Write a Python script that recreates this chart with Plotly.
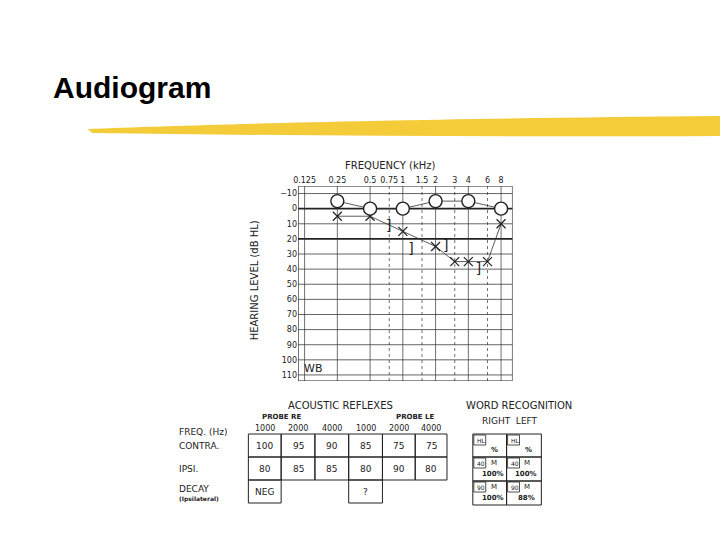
import plotly.graph_objects as go
import math

W, H = 728, 546
freq_ticks = [0.125, 0.25, 0.5, 0.75, 1, 1.5, 2, 3, 4, 6, 8]
freq_labels = ["0.125", "0.25", "0.5", "0.75", "1", "1.5", "2", "3", "4", "6", "8"]
db_ticks = list(range(-10, 120, 10))

right_f = [0.25, 0.5, 1, 2, 4, 8]
right_db = [-5, 0, 0, -5, -5, 0]
left_f = [0.25, 0.5, 1, 2, 3, 4, 6, 8]
left_db = [5, 5, 15, 25, 35, 35, 35, 10]
bone_f = [0.75, 1.2, 2.5, 5]
bone_db = [12, 27, 25, 40]

reflex_freqs = ["1000", "2000", "4000", "1000", "2000", "4000"]
contra = ["100", "95", "90", "85", "75", "75"]
ipsi = ["80", "85", "85", "80", "90", "80"]
decay = ["NEG", "", "", "?", "", ""]
word_right = ["HL|%", "40|M|100%", "90|M|100%"]
word_left = ["HL|%", "40|M|100%", "90|M|88%"]

def lx(f):
    return math.log2(f / 0.125)

def px(x, y):
    return x / W, 1 - y / H

fig = go.Figure()
lc = "#333"

# grid
for d in db_ticks:
    fig.add_shape(type="line", x0=-0.2, x1=6.35, y0=d, y1=d, xref="x", yref="y", layer="below",
                  line=dict(color="#222", width=1.8 if d in (0, 20) else 0.7))
for f in freq_ticks:
    dash = f in (0.75, 1.5, 3, 6)
    fig.add_shape(type="line", x0=lx(f), x1=lx(f), y0=-15, y1=114, xref="x", yref="y", layer="below",
                  line=dict(color="#333", width=0.7, dash="dot" if dash else "solid"))
fig.add_shape(type="rect", x0=-0.2, x1=6.35, y0=-15, y1=114, xref="x", yref="y",
              line=dict(color="#222", width=1.2))

fig.add_trace(go.Scatter(x=[lx(f) for f in left_f], y=left_db, mode="lines+markers",
    line=dict(color=lc, width=0.8),
    marker=dict(symbol="x-thin-open", size=9, color="#222", line=dict(width=1.2, color="#222")), showlegend=False))
fig.add_trace(go.Scatter(x=[lx(f) for f in right_f], y=right_db, mode="lines+markers",
    line=dict(color=lc, width=0.8),
    marker=dict(symbol="circle", size=13, color="white", line=dict(width=1.4, color="#222")), showlegend=False))
fig.add_trace(go.Scatter(x=[lx(f) for f in bone_f], y=bone_db, mode="text", text=["]"] * len(bone_f),
    textfont=dict(size=14, color="#222", family="DejaVu Sans Mono"), showlegend=False))

fig.add_annotation(x=0.25, y=106, xref="x", yref="y", text="WB", showarrow=False,
                   font=dict(size=11, color="#222"))

fx0, fy1 = px(287, 178)
fx1, fy0 = px(503, 373)
fig.update_layout(
    width=W, height=H, margin=dict(l=0, r=0, t=0, b=0),
    paper_bgcolor="white", plot_bgcolor="white",
    xaxis=dict(domain=[fx0, fx1], range=[-0.2, 6.35], side="top", tickangle=0,
               tickvals=[lx(f) for f in freq_ticks], ticktext=freq_labels,
               tickfont=dict(size=8, color="#222"), showgrid=False, zeroline=False, ticks=""),
    yaxis=dict(domain=[fy0, fy1], range=[114, -15], tickvals=db_ticks,
               tickfont=dict(size=8, color="#222"), showgrid=False, zeroline=False, ticks=""),
    font=dict(family="DejaVu Sans"),
)

def text(x, y, s, size=9, anchor="left", bold=False, angle=0, family="DejaVu Sans", color="#222"):
    X, Y = px(x, y)
    fig.add_annotation(x=X, y=Y, xref="paper", yref="paper", text=f"<b>{s}</b>" if bold else s,
                       showarrow=False, xanchor=anchor, yanchor="middle", textangle=angle,
                       font=dict(size=size, color=color, family=family))

def rect(x0, y0, x1, y1, w=1):
    X0, Y0 = px(x0, y0)
    X1, Y1 = px(x1, y1)
    fig.add_shape(type="rect", xref="paper", yref="paper", x0=X0, x1=X1, y0=Y1, y1=Y0,
                  line=dict(color="#222", width=w))

# Title & brush stroke
text(38, 79, "Audiogram", size=30, bold=True, family="Liberation Sans", color="black")
path = "M 75 121 C 200 116, 450 110, 728 108 L 728 128 C 500 129, 300 128, 80 125 Z"
def conv(p):
    res, nums = [], []
    for t in p.replace(",", " ").split():
        try:
            nums.append(float(t))
        except ValueError:
            if nums:
                res.append(" ".join(f"{nums[k]/W:.4f},{1-nums[k+1]/H:.4f}" for k in range(0, len(nums), 2)))
                nums = []
            res.append(t)
    if nums:
        res.append(" ".join(f"{nums[k]/W:.4f},{1-nums[k+1]/H:.4f}" for k in range(0, len(nums), 2)))
    return " ".join(res)
fig.add_shape(type="path", xref="paper", yref="paper", path=conv(path),
              fillcolor="#f3c623", line=dict(width=0), opacity=0.9)

text(380, 157, "FREQUENCY (kHz)", size=10, anchor="center")
text(243, 272, "HEARING LEVEL (dB HL)", size=10, anchor="center", angle=-90)

# Acoustic reflexes
text(330, 397, "ACOUSTIC REFLEXES", size=10, anchor="center")
text(270, 409, "PROBE RE", size=7, anchor="center", bold=True)
text(405, 409, "PROBE LE", size=7, anchor="center", bold=True)
text(165, 424, "FREQ. (Hz)", size=9)
text(165, 438, "CONTRA.", size=9)
text(165, 461, "IPSI.", size=9)
text(165, 481, "DECAY", size=9)
text(165, 491, "(Ipsilateral)", size=6, bold=True)
xs = [237, 270, 304, 338, 372, 405, 437]
for i in range(6):
    cx = (xs[i] + xs[i + 1]) / 2
    text(cx, 420, reflex_freqs[i], size=8, anchor="center")
    rect(xs[i], 426, xs[i + 1], 449)
    text(cx, 438, contra[i], size=9, anchor="center")
    rect(xs[i], 449, xs[i + 1], 472)
    text(cx, 461, ipsi[i], size=9, anchor="center")
    if decay[i]:
        rect(xs[i], 472, xs[i + 1], 495)
        text(cx, 484, decay[i], size=9, anchor="center")

# Word recognition
text(510, 397, "WORD RECOGNITION", size=10, anchor="center")
text(500, 413, "RIGHT  LEFT", size=9, anchor="center")
cols = [(463, 497, word_right), (497, 532, word_left)]
rows = [426, 449, 473, 497]
for x0, x1, vals in cols:
    for r in range(3):
        rect(x0, rows[r], x1, rows[r + 1])
        parts = vals[r].split("|")
        rect(x0 + 1, rows[r] + 1, x0 + 13, rows[r] + 11, w=0.8)
        text(x0 + 2, rows[r] + 6, parts[0], size=6)
        if len(parts) == 2:
            text(x0 + 22, rows[r] + 16, parts[1], size=7, anchor="center", bold=True)
        else:
            text(x0 + 16, rows[r] + 6, parts[1], size=7)
            text(x0 + 20, rows[r] + 17, parts[2], size=7, anchor="center", bold=True)

fig.write_html("out.html")
